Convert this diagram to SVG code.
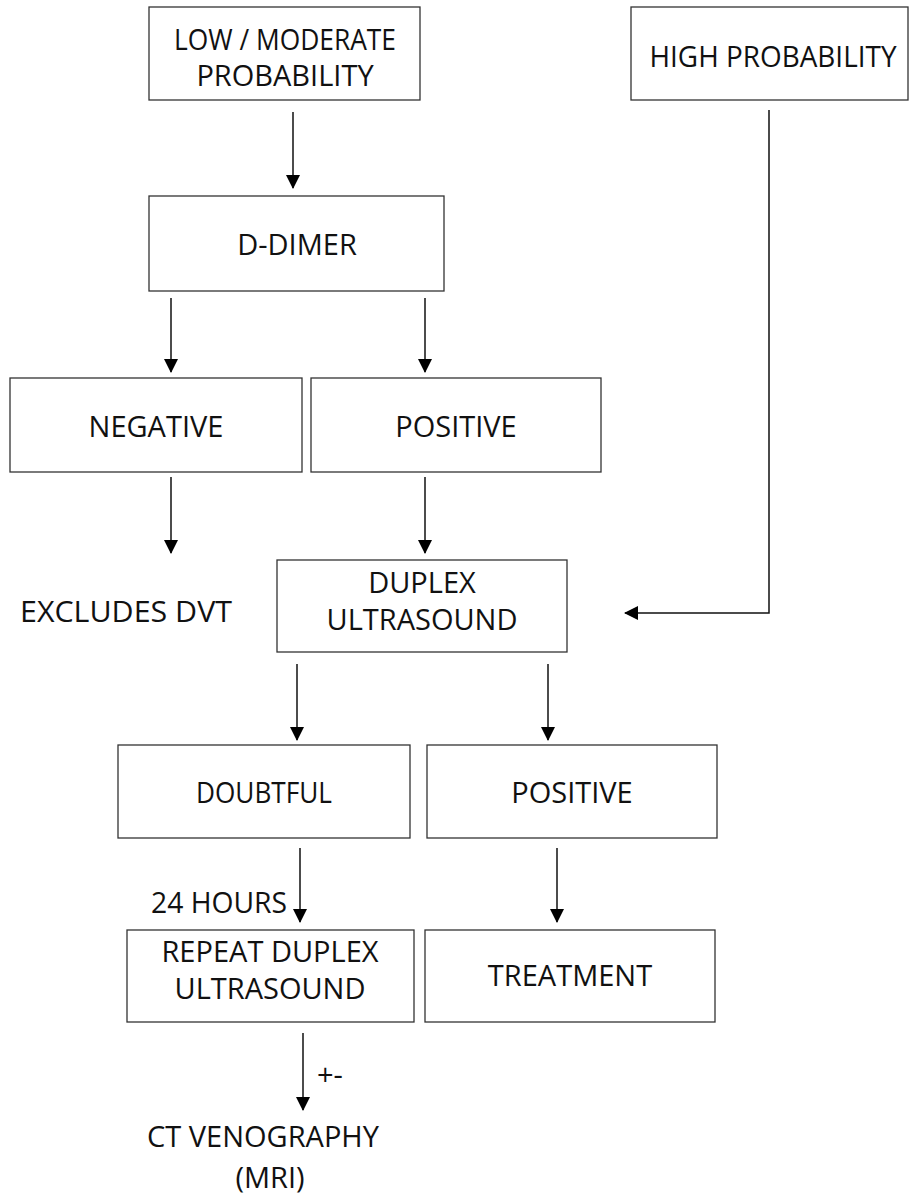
<svg xmlns="http://www.w3.org/2000/svg" width="910" height="1200" viewBox="0 0 910 1200">
<style>
.box{fill:#fff;stroke:#333;stroke-width:1.3}
.t{font-family:"Open Sans","Noto Sans","Liberation Sans",sans-serif;font-size:29px;fill:#111;text-anchor:middle}
.tl{font-family:"Open Sans","Noto Sans","Liberation Sans",sans-serif;font-size:29px;fill:#111}
.c{fill:none;stroke:#111;stroke-width:1.5}
</style>
<defs>
<marker id="ah" markerUnits="userSpaceOnUse" markerWidth="14" markerHeight="16" refX="13" refY="7" orient="auto">
<path d="M0,0 L14,7 L0,14 Z" fill="#000"/>
</marker>
</defs>
<rect width="910" height="1200" fill="#fff"/>
<g id="connectors">
<line class="c" x1="293" y1="112" x2="293" y2="188" marker-end="url(#ah)"/>
<line class="c" x1="171" y1="298" x2="171" y2="372" marker-end="url(#ah)"/>
<line class="c" x1="425" y1="298" x2="425" y2="372" marker-end="url(#ah)"/>
<line class="c" x1="171" y1="477" x2="171" y2="553" marker-end="url(#ah)"/>
<line class="c" x1="425" y1="477" x2="425" y2="553" marker-end="url(#ah)"/>
<polyline class="c" points="769,110 769,613 625,613" marker-end="url(#ah)"/>
<line class="c" x1="297" y1="664" x2="297" y2="740" marker-end="url(#ah)"/>
<line class="c" x1="548" y1="664" x2="548" y2="740" marker-end="url(#ah)"/>
<line class="c" x1="300" y1="848" x2="300" y2="922" marker-end="url(#ah)"/>
<line class="c" x1="557" y1="848" x2="557" y2="922" marker-end="url(#ah)"/>
<line class="c" x1="303" y1="1033" x2="303" y2="1110" marker-end="url(#ah)"/>
</g>
<g id="n-low"><rect class="box" x="149" y="7" width="271" height="93"/><text class="t" x="285" y="50" textLength="222" lengthAdjust="spacingAndGlyphs">LOW / MODERATE</text><text class="t" x="285" y="86">PROBABILITY</text></g>
<g id="n-high"><rect class="box" x="631" y="7" width="277" height="93"/><text class="t" x="773" y="67" textLength="247" lengthAdjust="spacingAndGlyphs">HIGH PROBABILITY</text></g>
<g id="n-ddimer"><rect class="box" x="149" y="196" width="295" height="95"/><text class="t" x="297" y="255">D-DIMER</text></g>
<g id="n-neg"><rect class="box" x="10" y="378" width="292" height="94"/><text class="t" x="156" y="437">NEGATIVE</text></g>
<g id="n-pos1"><rect class="box" x="311" y="378" width="290" height="94"/><text class="t" x="456" y="437">POSITIVE</text></g>
<g id="n-excl"><text class="tl" x="20" y="622" textLength="212" lengthAdjust="spacingAndGlyphs">EXCLUDES DVT</text></g>
<g id="n-duplex"><rect class="box" x="277" y="560" width="290" height="92"/><text class="t" x="422" y="593">DUPLEX</text><text class="t" x="422" y="630">ULTRASOUND</text></g>
<g id="n-doubt"><rect class="box" x="118" y="745" width="292" height="93"/><text class="t" x="264" y="803" textLength="136" lengthAdjust="spacingAndGlyphs">DOUBTFUL</text></g>
<g id="n-pos2"><rect class="box" x="427" y="745" width="290" height="93"/><text class="t" x="572" y="803">POSITIVE</text></g>
<g id="l-24"><text class="tl" x="151" y="913" textLength="136" lengthAdjust="spacingAndGlyphs">24 HOURS</text></g>
<g id="n-repeat"><rect class="box" x="127" y="930" width="287" height="92"/><text class="t" x="270" y="962">REPEAT DUPLEX</text><text class="t" x="270" y="999">ULTRASOUND</text></g>
<g id="n-treat"><rect class="box" x="425" y="930" width="290" height="92"/><text class="t" x="570" y="986">TREATMENT</text></g>
<g id="l-pm"><text class="tl" x="317" y="1085">+-</text></g>
<g id="n-ct"><text class="t" x="263" y="1147">CT VENOGRAPHY</text><text class="t" x="270" y="1188">(MRI)</text></g>
</svg>
